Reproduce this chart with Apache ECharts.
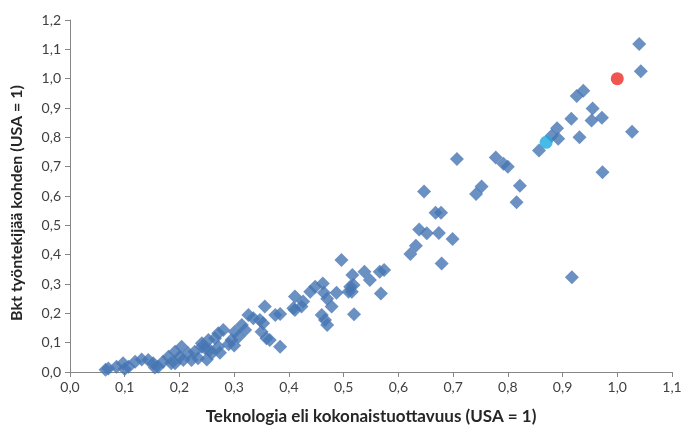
<!DOCTYPE html>
<html>
<head>
<meta charset="utf-8">
<script src="https://cdn.jsdelivr.net/npm/echarts@6/dist/echarts.min.js"></script>
<style>
html,body{margin:0;padding:0;background:#fff;}
#chart{width:687px;height:430px;}
</style>
</head>
<body>
<div id="chart"></div>
<script>
// Technology / total factor productivity (USA = 1)
const tfp = [
0.065,0.070,0.085,0.097,0.100,0.107,0.119,0.131,0.143,0.152,0.155,0.161,0.170,0.180,0.185,0.192,0.192,0.200,0.204,0.207,
0.216,0.222,0.228,0.234,0.241,0.241,0.247,0.250,0.253,0.255,0.259,0.265,0.271,0.271,0.274,0.280,0.290,0.295,0.300,0.301,
0.308,0.314,0.320,0.326,0.335,0.347,0.350,0.353,0.356,0.359,0.365,0.375,0.384,0.384,0.408,0.411,0.423,0.411,0.426,0.439,
0.448,0.462,0.464,0.470,0.460,0.466,0.470,0.478,0.487,0.496,0.509,0.512,0.515,0.516,0.518,0.519,0.538,0.548,0.566,0.574,
0.568,0.622,0.632,0.638,0.647,0.652,0.668,0.678,0.674,0.679,0.699,0.707,0.742,0.752,0.778,0.792,0.800,0.816,0.822,0.857,
0.880,0.890,0.892,0.916,0.917,0.926,0.931,0.938,0.953,0.955,0.972,0.973,1.027,1.040,1.043
];
// GDP per worker (USA = 1)
const gdpPerWorker = [
0.008,0.012,0.018,0.030,0.010,0.018,0.035,0.043,0.041,0.030,0.015,0.018,0.035,0.052,0.030,0.069,0.030,0.050,0.086,0.041,
0.064,0.041,0.069,0.047,0.086,0.098,0.081,0.043,0.109,0.075,0.064,0.115,0.132,0.086,0.066,0.143,0.095,0.109,0.090,0.137,
0.120,0.160,0.143,0.194,0.183,0.177,0.137,0.166,0.223,0.115,0.109,0.194,0.198,0.086,0.217,0.211,0.223,0.257,0.240,0.274,
0.291,0.302,0.270,0.250,0.194,0.177,0.160,0.223,0.270,0.382,0.274,0.291,0.274,0.331,0.297,0.197,0.342,0.314,0.342,0.348,
0.268,0.402,0.430,0.486,0.615,0.473,0.543,0.543,0.474,0.370,0.453,0.726,0.607,0.632,0.731,0.710,0.700,0.579,0.635,0.755,
0.805,0.831,0.795,0.863,0.323,0.941,0.800,0.959,0.857,0.898,0.867,0.681,0.819,1.118,1.025
];
// Highlighted points
const usaPoint = [1.0, 1.0];
const finlandPoint = [0.870, 0.783];

const xTicksMax = 1.1, yTicksMax = 1.2;

const countries = tfp.map((x, i) => [x, gdpPerWorker[i]]);
const fmt = v => v.toFixed(1).replace('.', ',');
const FONT = 'Lato, "Open Sans", sans-serif';

const chart = echarts.init(document.getElementById('chart'), null, {renderer: 'canvas'});
chart.setOption({
  animation: false,
  backgroundColor: '#ffffff',
  grid: {left: 70, right: 15, top: 20, bottom: 58, containLabel: false},
  xAxis: {
    type: 'value', min: 0, max: xTicksMax, interval: 0.1,
    name: 'Teknologia eli kokonaistuottavuus (USA = 1)',
    nameLocation: 'middle', nameGap: 36,
    nameTextStyle: {fontFamily: FONT, fontSize: 17, fontWeight: 'bold', color: '#262626'},
    axisLine: {show: true, lineStyle: {color: '#868686', width: 1}},
    axisTick: {show: true, length: 5, lineStyle: {color: '#868686'}},
    axisLabel: {formatter: fmt, fontFamily: FONT, fontSize: 14, color: '#404040', margin: 8},
    splitLine: {show: false}
  },
  yAxis: {
    type: 'value', min: 0, max: yTicksMax, interval: 0.1,
    name: 'Bkt työntekijää kohden (USA = 1)',
    nameLocation: 'middle', nameGap: 45,
    nameTextStyle: {fontFamily: FONT, fontSize: 16, fontWeight: 'bold', color: '#262626', padding: [0, 14, 0, 0]},
    axisLine: {show: true, lineStyle: {color: '#868686', width: 1}},
    axisTick: {show: true, length: 5, lineStyle: {color: '#868686'}},
    axisLabel: {formatter: fmt, fontFamily: FONT, fontSize: 14, color: '#404040', margin: 9},
    splitLine: {show: false}
  },
  series: [
    {type: 'scatter', data: countries, symbol: 'diamond', symbolSize: 14,
     itemStyle: {color: '#4676B3'}},
    {type: 'scatter', data: [finlandPoint], symbol: 'circle', symbolSize: 13,
     itemStyle: {color: '#1BA9E1'}},
    {type: 'scatter', data: [usaPoint], symbol: 'circle', symbolSize: 13,
     itemStyle: {color: '#EE2A24'}}
  ]
});
</script>
</body>
</html>
